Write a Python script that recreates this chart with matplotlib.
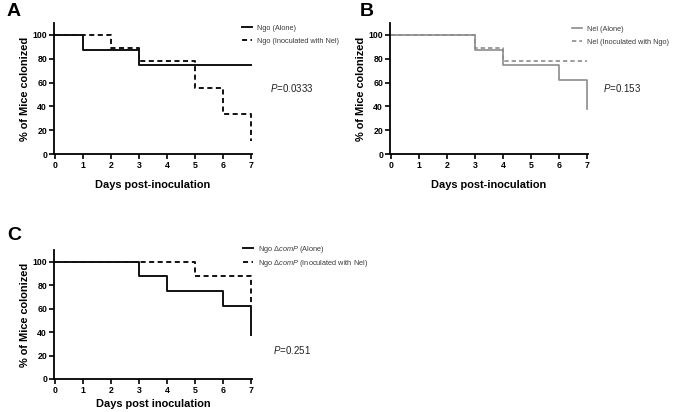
import matplotlib
matplotlib.use("Agg")
import matplotlib.pyplot as plt

plt.rcParams['font.family'] = ['Liberation Sans', 'DejaVu Sans']
plt.rcParams['mathtext.fontset'] = 'custom'
plt.rcParams['mathtext.rm'] = 'Liberation Sans'
plt.rcParams['mathtext.it'] = 'Liberation Sans:italic'
plt.rcParams['mathtext.bf'] = 'Liberation Sans:bold'

# ---- data ----
days_ticks = [0, 1, 2, 3, 4, 5, 6, 7]
pct_ticks = [0, 20, 40, 60, 80, 100]

a_alone_t = [0, 1, 3, 7]
a_alone_s = [100, 87.5, 75, 75]
a_co_t = [0, 2, 3, 5, 6, 7]
a_co_s = [100, 88.9, 77.8, 55.6, 33.3, 11.1]

b_alone_t = [0, 3, 4, 6, 7]
b_alone_s = [100, 87.5, 75, 62.5, 37.5]
b_co_t = [0, 3, 4, 7]
b_co_s = [100, 88.9, 77.8, 77.8]

c_alone_t = [0, 3, 4, 6, 7]
c_alone_s = [100, 87.5, 75, 62.5, 37.5]
c_co_t = [0, 5, 7]
c_co_s = [100, 87.5, 62.5]

W, H = 675, 412
fig = plt.figure(figsize=(W / 100, H / 100), dpi=100)


def fx(p):
    return p / W


def fy(p):
    return 1 - p / H


LABEL_FS = 7.9


def make_ax(left, right, top, bottom):
    ax = fig.add_axes([fx(left), fy(bottom), fx(right) - fx(left), fy(top) - fy(bottom)])
    ax.set_xlim(-0.04, 7.03)
    ax.set_ylim(0, 110)
    for s in ['top', 'right']:
        ax.spines[s].set_visible(False)
    for s in ['left', 'bottom']:
        ax.spines[s].set_linewidth(1.3)
    ax.set_xticks(days_ticks)
    ax.set_yticks(pct_ticks)
    ax.tick_params(direction='out', length=3.5, width=1.2, labelsize=6.3, pad=1.5)
    for lab in ax.get_xticklabels() + ax.get_yticklabels():
        lab.set_fontweight('bold')
    ax.set_ylabel('% of Mice colonized', fontsize=LABEL_FS, fontweight='bold', labelpad=2)
    return ax


dash = (0, (2.6, 1.8))
black = '#111111'
grey = '#8c8c8c'
leg_kw = dict(bbox_transform=fig.transFigure, loc='upper left', frameon=False, fontsize=5.3,
              handlelength=1.4, handletextpad=0.7, borderpad=0, borderaxespad=0,
              labelcolor='#3a3a3a')

# Panel A
axA = make_ax(54, 252, 23, 154)
axA.plot(a_alone_t, a_alone_s, drawstyle='steps-post', color=black, lw=1.4, label='Ngo (Alone)')
axA.plot(a_co_t, a_co_s, drawstyle='steps-post', color=black, lw=1.4, ls=dash,
         label='Ngo (Inoculated with Nel)')
axA.set_xlabel('Days post-inoculation', fontsize=LABEL_FS, fontweight='bold', labelpad=7)
axA.legend(bbox_to_anchor=(fx(242), fy(24.5)), labelspacing=0.85, **leg_kw)
fig.text(fx(270), fy(88), r'$\it{P}$=0.0333', fontsize=7, va='center', ha='left', color='#222222')
fig.text(fx(7), fy(11.5), 'A', fontsize=14, fontweight='bold', va='center', ha='left')

# Panel B
axB = make_ax(390, 588, 23, 154)
axB.plot(b_alone_t, b_alone_s, drawstyle='steps-post', color=grey, lw=1.2, label='Nel (Alone)')
axB.plot(b_co_t, b_co_s, drawstyle='steps-post', color=grey, lw=1.2, ls=dash,
         label='Nel (Inoculated with Ngo)')
axB.set_xlabel('Days post-inoculation', fontsize=LABEL_FS, fontweight='bold', labelpad=7)
axB.legend(bbox_to_anchor=(fx(572), fy(25.5)), labelspacing=0.85, **leg_kw)
fig.text(fx(603), fy(88), r'$\it{P}$=0.153', fontsize=7, va='center', ha='left', color='#222222')
fig.text(fx(360), fy(11.5), 'B', fontsize=14, fontweight='bold', va='center', ha='left')

# Panel C
axC = make_ax(54, 252, 250, 379)
axC.plot(c_alone_t, c_alone_s, drawstyle='steps-post', color=black, lw=1.4,
         label=r'Ngo $\Delta$$\it{comP}$ (Alone)')
axC.plot(c_co_t, c_co_s, drawstyle='steps-post', color=black, lw=1.4, ls=dash,
         label=r'Ngo $\Delta$$\it{comP}$ (Inoculated with Nel)')
axC.set_xlabel('Days post inoculation', fontsize=LABEL_FS, fontweight='bold', labelpad=3)
axC.legend(bbox_to_anchor=(fx(243), fy(244)), labelspacing=0.35, **leg_kw)
fig.text(fx(273), fy(350), r'$\it{P}$=0.251', fontsize=7, va='center', ha='left', color='#222222')
fig.text(fx(7), fy(235), 'C', fontsize=14, fontweight='bold', va='center', ha='left')

fig.savefig('out.png', dpi=100, facecolor='white')
